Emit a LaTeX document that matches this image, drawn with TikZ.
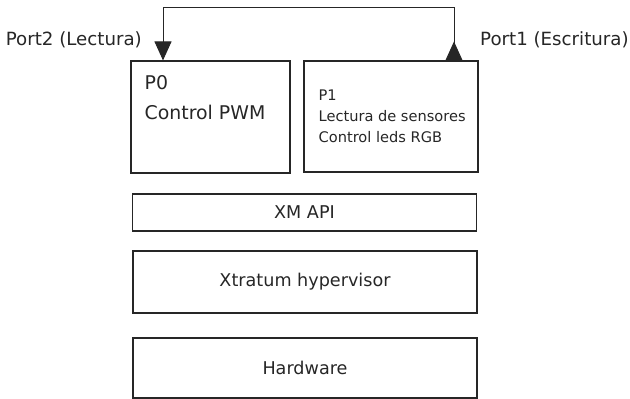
\documentclass[tikz,border=0pt]{standalone}
\usepackage{fontspec}
\setmainfont{DejaVu Sans}
\usetikzlibrary{arrows.meta,calc}

\begin{document}
\begin{tikzpicture}[x=1pt,y=-1pt,
    box/.style={draw=black!85,line width=1.1pt,minimum width=#1,inner sep=0pt},
    lyr/.style={box=344pt,font=\fontsize{17.6}{20}\selectfont,text=black!85},
    txt/.style={anchor=north west,align=left,inner sep=0pt,text=black!85},
    prt/.style={font=\fontsize{18.2}{20}\selectfont,text=black!85,inner sep=0pt},
    arw/.style={line width=1pt,draw=black!85,
      {Triangle[reversed,length=19pt,width=17pt]}-{Triangle[length=19pt,width=17pt]}}]
  \useasboundingbox (0,0) rectangle (630,399);
  % partitions
  \node[box=159pt,minimum height=112pt] (P0) at (210.5,117) {};
  \node[box=174pt,minimum height=111pt] (P1) at (391,116.5) {};
  \node[txt,font=\fontsize{18.9}{30}\selectfont] at ([shift={(14,15)}]P0.north west)
    {P0\\Control PWM};
  \node[txt,font=\fontsize{14.6}{21}\selectfont] at ([shift={(15,29)}]P1.north west)
    {P1\\Lectura de sensores\\Control leds RGB};
  % layers
  \node[lyr,minimum height=37pt] (api) at (304.5,212.5) {XM API};
  \node[lyr,minimum height=62pt] (xtr) at (305,282) {Xtratum hypervisor};
  \node[lyr,minimum height=60pt] (hw) at (305,368) {Hardware};
  % ports
  \coordinate (out) at ([xshift=63pt]P1.north);
  \coordinate (in) at ([xshift=-47.5pt]P0.north);
  \draw[arw] (out) -- (out |- 0,7) -- (in |- 0,7) -- (in);
  \node[prt,anchor=east] (port2) at (142,40) {Port2 (Lectura)};
  \node[prt,anchor=west] (port1) at (480,40) {Port1 (Escritura)};
\end{tikzpicture}
\end{document}
